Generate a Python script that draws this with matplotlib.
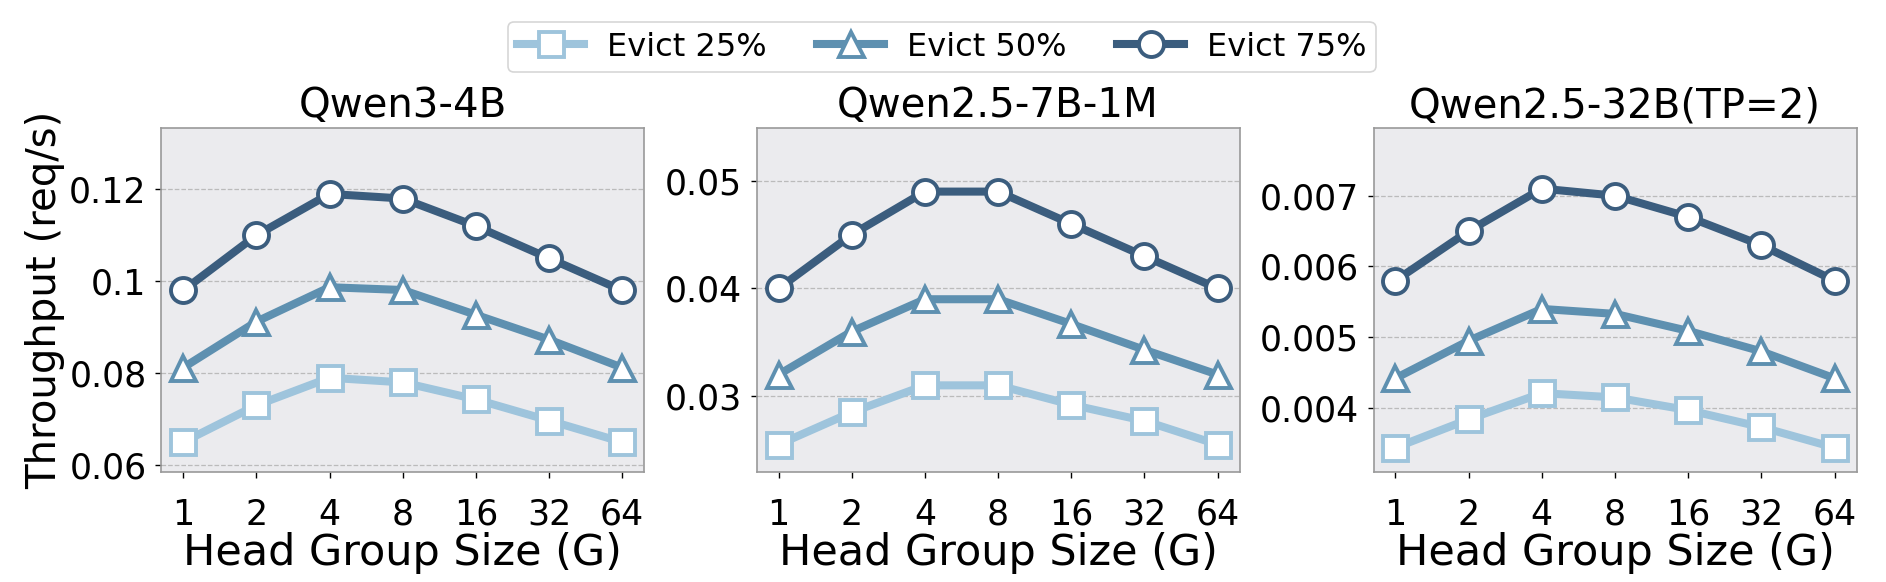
import matplotlib
matplotlib.use("Agg")
import matplotlib.pyplot as plt
from matplotlib.ticker import FuncFormatter
from matplotlib.lines import Line2D

plt.rcParams['font.family'] = ['DejaVu Sans']

# ---- data ----
group_sizes = ["1", "2", "4", "8", "16", "32", "64"]
series_labels = ["Evict 25%", "Evict 50%", "Evict 75%"]
model_titles = ["Qwen3-4B", "Qwen2.5-7B-1M", "Qwen2.5-32B(TP=2)"]

qwen3_4b_25 = [0.065, 0.073, 0.079, 0.078, 0.0743, 0.0697, 0.065]
qwen3_4b_50 = [0.0812, 0.0912, 0.0987, 0.0981, 0.0927, 0.0873, 0.0812]
qwen3_4b_75 = [0.098, 0.110, 0.119, 0.118, 0.112, 0.105, 0.098]

qwen25_7b_25 = [0.0255, 0.0285, 0.0310, 0.0310, 0.0292, 0.0277, 0.0255]
qwen25_7b_50 = [0.0320, 0.0360, 0.0390, 0.0390, 0.0367, 0.0343, 0.0320]
qwen25_7b_75 = [0.040, 0.045, 0.049, 0.049, 0.046, 0.043, 0.040]

qwen25_32b_25 = [0.00344, 0.00384, 0.00421, 0.00415, 0.00397, 0.00373, 0.00344]
qwen25_32b_50 = [0.00442, 0.00495, 0.00540, 0.00533, 0.00509, 0.00480, 0.00442]
qwen25_32b_75 = [0.0058, 0.0065, 0.0071, 0.0070, 0.0067, 0.0063, 0.0058]

yticks_4b = [0.06, 0.08, 0.10, 0.12]
yticks_7b = [0.03, 0.04, 0.05]
yticks_32b = [0.004, 0.005, 0.006, 0.007]

panels = [
    (model_titles[0], [qwen3_4b_25, qwen3_4b_50, qwen3_4b_75], yticks_4b),
    (model_titles[1], [qwen25_7b_25, qwen25_7b_50, qwen25_7b_75], yticks_7b),
    (model_titles[2], [qwen25_32b_25, qwen25_32b_50, qwen25_32b_75], yticks_32b),
]

# ---- style ----
colors = ["#9ec4dc", "#5e90b0", "#3b5d7e"]
markers = ["s", "^", "o"]
LW = 5.8
MS = 18
MEW = 2.8
TICK_FS = 25
XLABEL_FS = 31
YLABEL_FS = 29
TITLE_FS = 29
LEGEND_FS = 23

fig = plt.figure(figsize=(18.86, 5.82), dpi=100)
lefts = [161.2 / 1886, 756.6 / 1886, 1373.5 / 1886]
width = 483 / 1886
bottom = (582 - 472) / 582
height = (472 - 128.3) / 582

x = list(range(len(group_sizes)))
for i, (title, series, yt) in enumerate(panels):
    ax = fig.add_axes([lefts[i], bottom, width, height])
    ax.set_facecolor("#ebebee")
    for s, c, m, lab in zip(series, colors, markers, series_labels):
        ax.plot(x, s, color=c, lw=LW, marker=m, ms=MS, mew=MEW,
                mfc="white", mec=c, label=lab, zorder=3)
    allv = [v for s in series for v in s]
    ax.set_ylim(min(allv) * 0.9, max(allv) * 1.12)
    ax.set_xlim(-0.3, len(group_sizes) - 1 + 0.3)
    ax.set_xticks(x)
    ax.set_xticklabels(group_sizes)
    ax.set_yticks(yt)
    ax.yaxis.set_major_formatter(FuncFormatter(lambda v, p: "%g" % v))
    ax.grid(axis="y", linestyle="--", color="#bbbbbb", linewidth=0.9, zorder=0)
    ax.set_axisbelow(True)
    for sp in ax.spines.values():
        sp.set_color("#999999")
        sp.set_linewidth(1.2)
    ax.tick_params(axis="x", labelsize=TICK_FS, length=4.5, width=1.0, pad=14)
    ax.tick_params(axis="y", labelsize=TICK_FS, length=4.5, width=1.0, pad=6)
    ax.set_title(title, fontsize=TITLE_FS, pad=8)
    ax.set_xlabel("Head Group Size (G)", fontsize=XLABEL_FS, labelpad=0)
    if i == 0:
        ax.set_ylabel("Throughput (req/s)", fontsize=YLABEL_FS, labelpad=3)

handles = [Line2D([0], [0], color=c, lw=LW, marker=m, ms=MS, mew=MEW,
                  mfc="white", mec=c) for c, m in zip(colors, markers)]
leg = fig.legend(handles, series_labels, loc="center", bbox_to_anchor=(0.4993, 0.919),
                 ncol=3, fontsize=LEGEND_FS, frameon=True, handlelength=2.1,
                 handletextpad=0.7, columnspacing=1.6, borderpad=0.3)
leg.get_frame().set_edgecolor("#cccccc")
leg.get_frame().set_linewidth(1.2)

fig.savefig("out.png", dpi=100)
